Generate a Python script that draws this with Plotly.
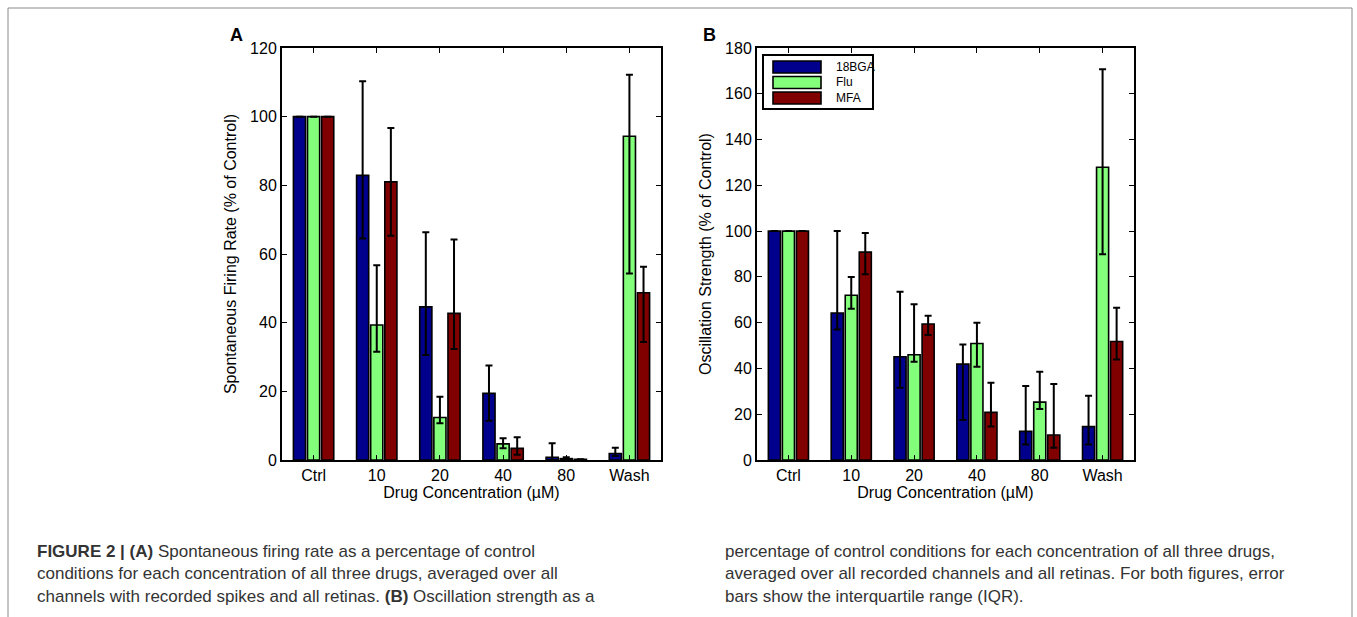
import plotly.graph_objects as go

W, H = 1357, 617

categories = ["Ctrl", "10", "20", "40", "80", "Wash"]
drugs = ["18BGA", "Flu", "MFA"]
colors = ["#00008c", "#84ff7c", "#800000"]

# Panel A: spontaneous firing rate (% of control), bar value and IQR ends
rate_18bga = [100, 82.9, 44.6, 19.4, 0.8, 1.9]
rate_18bga_hi = [100, 110.3, 66.3, 27.5, 4.9, 3.6]
rate_18bga_lo = [100, 64.5, 30.6, 11.4, 0.0, 1.2]
rate_flu = [100, 39.3, 12.4, 4.7, 0.4, 94.3]
rate_flu_hi = [100, 56.7, 18.4, 6.3, 0.8, 112.2]
rate_flu_lo = [100, 31.5, 10.7, 3.4, 0.1, 54.3]
rate_mfa = [100, 81.0, 42.7, 3.4, 0.2, 48.7]
rate_mfa_hi = [100, 96.7, 64.2, 6.6, 0.2, 56.3]
rate_mfa_lo = [100, 65.3, 32.3, 1.5, 0.2, 34.4]

# Panel B: oscillation strength (% of control), bar value and IQR ends
osc_18bga = [100, 64.2, 45.1, 41.9, 12.5, 14.6]
osc_18bga_hi = [100, 100.0, 73.5, 50.5, 32.3, 28.1]
osc_18bga_lo = [100, 57.0, 31.6, 17.5, 6.8, 6.8]
osc_flu = [100, 72.0, 46.0, 50.9, 25.3, 127.9]
osc_flu_hi = [100, 80.0, 68.1, 60.0, 38.6, 170.7]
osc_flu_lo = [100, 66.1, 42.9, 40.7, 22.3, 89.9]
osc_mfa = [100, 90.8, 59.4, 20.8, 10.9, 51.8]
osc_mfa_hi = [100, 99.2, 63.0, 33.8, 33.2, 66.5]
osc_mfa_lo = [100, 81.2, 54.6, 14.6, 5.4, 43.9]

yticks_a = [0, 20, 40, 60, 80, 100, 120]
yticks_b = [0, 20, 40, 60, 80, 100, 120, 140, 160, 180]

caption_left = [
    "<b>FIGURE 2 | (A)</b> Spontaneous firing rate as a percentage of control",
    "conditions for each concentration of all three drugs, averaged over all",
    "channels with recorded spikes and all retinas. <b>(B)</b> Oscillation strength as a",
]
caption_right = [
    "percentage of control conditions for each concentration of all three drugs,",
    "averaged over all recorded channels and all retinas. For both figures, error",
    "bars show the interquartile range (IQR).",
]

FONT = "Liberation Sans, Arial, Helvetica, sans-serif"


def px(x):
    return x / W


def py(y):
    return 1 - y / H


fig = go.Figure()

panel_a = [(rate_18bga, rate_18bga_hi, rate_18bga_lo),
           (rate_flu, rate_flu_hi, rate_flu_lo),
           (rate_mfa, rate_mfa_hi, rate_mfa_lo)]
panel_b = [(osc_18bga, osc_18bga_hi, osc_18bga_lo),
           (osc_flu, osc_flu_hi, osc_flu_lo),
           (osc_mfa, osc_mfa_hi, osc_mfa_lo)]

for panel, (xa, ya) in ((panel_a, ("x", "y")), (panel_b, ("x2", "y2"))):
    for i, (vals, hi, lo) in enumerate(panel):
        plus = [h - v for v, h in zip(vals, hi)]
        minus = [v - l for v, l in zip(vals, lo)]
        fig.add_trace(go.Bar(
            x=categories, y=vals, name=drugs[i],
            marker=dict(color=colors[i], line=dict(color="black", width=1.6)),
            error_y=dict(type="data", symmetric=False, array=plus, arrayminus=minus,
                         color="black", thickness=2, width=3.5),
            xaxis=xa, yaxis=ya, showlegend=False,
        ))

axis_common = dict(
    showline=True, linecolor="black", linewidth=2, mirror="ticks",
    ticks="inside", ticklen=5, tickwidth=1.2, tickcolor="black",
    showgrid=False, zeroline=False, automargin=False,
    tickfont=dict(family=FONT, size=16, color="black"),
)

xa_dom = [px(282), px(661)]
xb_dom = [px(757), px(1134)]
y_dom = [py(460), py(48)]

xtitle = dict(text="Drug Concentration (\u00b5M)",
              font=dict(family=FONT, size=16, color="black"), standoff=4)

fig.update_layout(
    template="none",
    width=W, height=H,
    margin=dict(l=0, r=0, t=0, b=0),
    paper_bgcolor="white", plot_bgcolor="white",
    barmode="group", bargap=0.33, bargroupgap=0.14,
    font=dict(family=FONT, color="black"),
    showlegend=False,
    xaxis=dict(domain=xa_dom, anchor="y", type="category", range=[-0.5, 5.5],
               title=xtitle, **axis_common),
    yaxis=dict(domain=y_dom, anchor="x", range=[0, 120], tickvals=yticks_a,
               title=dict(text="Spontaneous Firing Rate (% of Control)",
                          font=dict(family=FONT, size=16, color="black"), standoff=9),
               **axis_common),
    xaxis2=dict(domain=xb_dom, anchor="y2", type="category", range=[-0.5, 5.5],
                title=xtitle, **axis_common),
    yaxis2=dict(domain=y_dom, anchor="x2", range=[0, 180], tickvals=yticks_b,
                title=dict(text="Oscillation Strength (% of Control)",
                           font=dict(family=FONT, size=16, color="black"), standoff=9),
                **axis_common),
)

# legend box drawn in panel B (upper-left)
fig.add_shape(type="rect", xref="paper", yref="paper",
              x0=px(763), x1=px(873), y0=py(109), y1=py(55),
              line=dict(color="black", width=2), fillcolor="white", layer="above")
for i, name in enumerate(drugs):
    yc = 67 + 15.5 * i
    fig.add_shape(type="rect", xref="paper", yref="paper",
                  x0=px(773), x1=px(821), y0=py(yc + 6), y1=py(yc - 6),
                  line=dict(color="black", width=1.6), fillcolor=colors[i], layer="above")
    fig.add_annotation(text=name, x=px(834), y=py(yc), xref="paper", yref="paper",
                       xanchor="left", yanchor="middle", showarrow=False,
                       font=dict(family=FONT, size=12, color="black"))

# panel letters
for txt, xpos in (("A", 236), ("B", 709)):
    fig.add_annotation(text=f"<b>{txt}</b>", x=px(xpos), y=py(35), xref="paper", yref="paper",
                       xanchor="center", yanchor="middle", showarrow=False,
                       font=dict(family=FONT, size=18, color="black"))

# caption lines
cap_font = dict(family=FONT, size=17, color="#333333")
for j, line in enumerate(caption_left):
    fig.add_annotation(text=line, x=px(35), y=py(551 + 22.5 * j), xref="paper", yref="paper",
                       xanchor="left", yanchor="middle", showarrow=False, font=cap_font)
for j, line in enumerate(caption_right):
    fig.add_annotation(text=line, x=px(723), y=py(551 + 22.5 * j), xref="paper", yref="paper",
                       xanchor="left", yanchor="middle", showarrow=False, font=cap_font)

# outer figure frame
fig.add_shape(type="rect", xref="paper", yref="paper", x0=px(8), x1=px(1352), y0=-0.05, y1=py(8),
              line=dict(color="#8a8a8a", width=1), layer="below")

fig.write_html("out.html")
